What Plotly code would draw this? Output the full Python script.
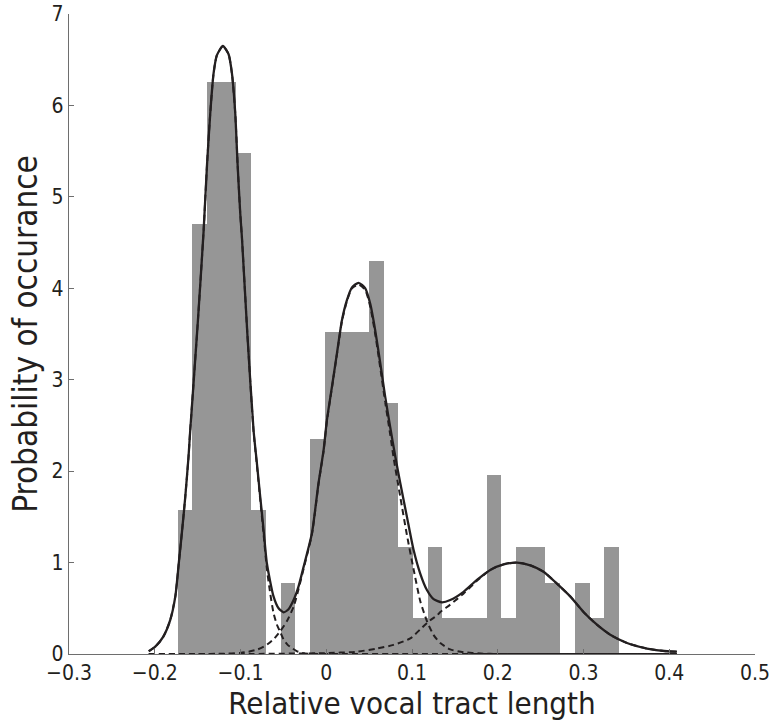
import plotly.graph_objects as go

# Histogram (density)
bin_left = -0.1734
bin_width = 0.01716
bar_heights = [1.57, 4.70, 6.26, 6.26, 5.48, 1.57, 0.0, 0.78, 0.0, 2.35,
               3.52, 3.52, 3.52, 4.30, 2.74, 1.17, 0.39, 1.17, 0.39, 0.39,
               0.39, 1.96, 0.39, 1.17, 1.17, 0.78, 0.0, 0.78, 0.39, 1.17]
bar_centers = [bin_left + bin_width * (i + 0.5) for i in range(len(bar_heights))]

# Mixture curve (solid)
mix_x = [-0.207, -0.1994, -0.190, -0.182, -0.176, -0.172, -0.168, -0.1644, -0.1606, -0.1586,
         -0.150, -0.143, -0.139, -0.1353, -0.1314, -0.1275, -0.1205, -0.1139, -0.110, -0.1061,
         -0.1034, -0.1003, -0.0983, -0.092, -0.0848, -0.0808, -0.077, -0.0731, -0.0692, -0.0615,
         -0.0556, -0.0498, -0.044, -0.0381, -0.0323, -0.0265, -0.0167, -0.009, -0.0031, 0.0008,
         0.0066, 0.0125, 0.0183, 0.0241, 0.030, 0.0377, 0.0455, 0.0513, 0.0571, 0.063,
         0.0688, 0.0746, 0.0805, 0.0863, 0.0941, 0.1018, 0.1096, 0.1174, 0.1252, 0.1349,
         0.1446, 0.1601, 0.1757, 0.1913, 0.2068, 0.2224, 0.2379, 0.2534, 0.269, 0.2845,
         0.300, 0.3157, 0.3312, 0.3507, 0.374, 0.3973, 0.409]
mix_y = [0.03, 0.08, 0.19, 0.37, 0.63, 0.99, 1.36, 1.72, 2.16, 2.45,
         3.60, 4.63, 5.36, 5.91, 6.35, 6.55, 6.65, 6.56, 6.35, 5.91,
         5.36, 4.82, 4.55, 3.50, 2.45, 2.08, 1.72, 1.36, 0.99, 0.63,
         0.50, 0.456, 0.49, 0.59, 0.74, 0.95, 1.32, 1.87, 2.23, 2.56,
         2.92, 3.29, 3.65, 3.87, 4.01, 4.06, 4.00, 3.83, 3.54, 3.18,
         2.81, 2.48, 2.16, 1.87, 1.50, 1.14, 0.88, 0.70, 0.60, 0.565,
         0.59, 0.68, 0.81, 0.92, 0.98, 1.00, 0.97, 0.90, 0.77, 0.63,
         0.46, 0.32, 0.21, 0.12, 0.06, 0.03, 0.025]

# Component 1 (dashed)
c1_x = [-0.207, -0.1994, -0.190, -0.182, -0.176, -0.172, -0.168, -0.1644, -0.1606, -0.1586,
        -0.150, -0.143, -0.139, -0.1353, -0.1314, -0.1275, -0.1205, -0.1139, -0.110, -0.1061,
        -0.1034, -0.1003, -0.0983, -0.092, -0.0848, -0.0808, -0.077, -0.0731, -0.0692, -0.0653,
        -0.0615, -0.0575, -0.0536, -0.0498, -0.045, -0.040, -0.035, -0.030, -0.020, 0.0,
        0.1, 0.2, 0.3, 0.409]
c1_y = [0.03, 0.08, 0.19, 0.37, 0.63, 0.99, 1.36, 1.72, 2.16, 2.45,
        3.60, 4.63, 5.36, 5.91, 6.35, 6.55, 6.65, 6.56, 6.35, 5.91,
        5.36, 4.82, 4.55, 3.50, 2.44, 2.06, 1.69, 1.31, 0.93, 0.66,
        0.45, 0.32, 0.24, 0.16, 0.10, 0.065, 0.035, 0.015, 0.003, 0.0,
        0.0, 0.0, 0.0, 0.0]

# Component 2 (dashed)
c2_x = [-0.207, -0.15, -0.12, -0.100, -0.0906, -0.080, -0.071, -0.0615, -0.0536, -0.0458,
        -0.038, -0.0323, -0.0265, -0.0167, -0.009, -0.0031, 0.0008, 0.0066, 0.0125, 0.0183,
        0.0241, 0.030, 0.0377, 0.0455, 0.0513, 0.0571, 0.063, 0.0688, 0.0746, 0.0785,
        0.0863, 0.0941, 0.1018, 0.1096, 0.1174, 0.125, 0.133, 0.1446, 0.160, 0.180,
        0.200, 0.300, 0.409]
c2_y = [0.0, 0.0, 0.003, 0.012, 0.025, 0.05, 0.09, 0.16, 0.25, 0.36,
        0.52, 0.71, 0.93, 1.31, 1.86, 2.22, 2.55, 2.91, 3.28, 3.64,
        3.86, 4.00, 4.04, 3.98, 3.80, 3.50, 3.13, 2.75, 2.40, 2.15,
        1.72, 1.30, 0.93, 0.58, 0.36, 0.21, 0.12, 0.05, 0.02, 0.005,
        0.0, 0.0, 0.0]

# Component 3 (dashed)
c3_x = [-0.207, -0.1, 0.0, 0.0358, 0.059, 0.0785, 0.098, 0.1096, 0.1213, 0.129,
        0.133, 0.1446, 0.160, 0.1757, 0.1913, 0.2068, 0.2224, 0.2379, 0.2534, 0.269,
        0.2845, 0.300, 0.3157, 0.3312, 0.3507, 0.374, 0.3973, 0.409]
c3_y = [0.0, 0.0, 0.01, 0.025, 0.06, 0.10, 0.17, 0.27, 0.37, 0.42,
        0.46, 0.54, 0.66, 0.80, 0.92, 0.98, 1.00, 0.97, 0.90, 0.77,
        0.63, 0.46, 0.32, 0.21, 0.12, 0.06, 0.03, 0.025]

x_ticks = [-0.3, -0.2, -0.1, 0.0, 0.1, 0.2, 0.3, 0.4, 0.5]
y_ticks = [0, 1, 2, 3, 4, 5, 6, 7]

FONT = "DejaVu Sans Condensed, Open Sans, sans-serif"
INK = "#231f20"
AXIS = "#6e6e6e"

fig = go.Figure()
fig.add_trace(go.Bar(x=bar_centers, y=bar_heights, width=bin_width,
                     marker=dict(color="#969696", line=dict(width=0)),
                     showlegend=False, hoverinfo="skip"))
for cx, cy in [(c1_x, c1_y), (c2_x, c2_y), (c3_x, c3_y)]:
    fig.add_trace(go.Scatter(x=cx, y=cy, mode="lines",
                             line=dict(color=INK, width=2, dash="6px,4px", shape="spline", smoothing=0.6),
                             showlegend=False, hoverinfo="skip"))
fig.add_trace(go.Scatter(x=mix_x, y=mix_y, mode="lines",
                         line=dict(color=INK, width=2.3, shape="spline", smoothing=0.6),
                         showlegend=False, hoverinfo="skip"))

fig.update_layout(
    width=775, height=721,
    margin=dict(l=69, r=20, t=14, b=67),
    paper_bgcolor="white", plot_bgcolor="white",
    bargap=0,
    font=dict(family=FONT, color=INK, size=21),
    xaxis=dict(range=[-0.3, 0.5], tickvals=x_ticks, ticks="inside", ticklen=5,
               tickcolor=AXIS, showline=True, linecolor=AXIS, linewidth=1.3,
               showgrid=False, zeroline=False, automargin=False,
               tickfont=dict(size=21, family=FONT, color=INK),
               title=dict(text="Relative vocal tract length", font=dict(size=31, family=FONT, color=INK),
                          standoff=0)),
    yaxis=dict(range=[0, 7], tickvals=y_ticks, ticks="inside", ticklen=5,
               tickcolor=AXIS, showline=True, linecolor=AXIS, linewidth=1.3,
               showgrid=False, zeroline=False, automargin=False,
               tickfont=dict(size=21, family=FONT, color=INK),
               title=dict(text="Probability of occurance", font=dict(size=33, family=FONT, color=INK),
                          standoff=4)),
)

fig.write_html("out.html")
